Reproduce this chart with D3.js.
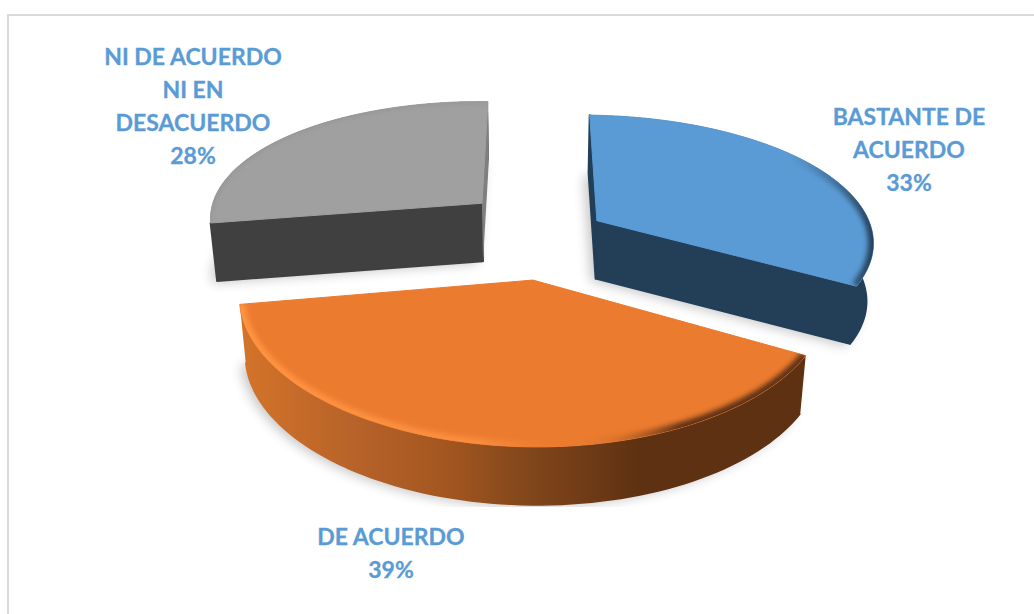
<!DOCTYPE html>
<html>
<head>
<meta charset="utf-8">
<script src="https://cdn.jsdelivr.net/npm/d3@7"></script>
<style>
html, body { margin: 0; padding: 0; background: #fff; overflow: hidden; }
svg { display: block; }
</style>
</head>
<body>
<svg id="chart" width="1034" height="614"></svg>
<script>
var categories = ["BASTANTE DE ACUERDO", "DE ACUERDO", "NI DE ACUERDO NI EN DESACUERDO"];
var values = [33, 39, 28];

var labelLines = [["BASTANTE DE", "ACUERDO"], ["DE ACUERDO"], ["NI DE ACUERDO", "NI EN", "DESACUERDO"]];
var topColors = ["#5b9bd5", "#eb7b2f", "#a0a0a0"];
var wallColors = ["#233e57", "#84481b", "#404040"];

// layout
var cx = 535, cy = 237, R = 278, depth = 58;
var tiltK = 0.455, perspY = 0.00055, perspX = 0.00048, bottomShrink = 0.98;
var explodeX = [63, -2, -55], explodeY = [-38, 90, -76];
var labelX = [909, 391, 193], labelY = [125, 545, 65];
var lineHeight = 33;

var svg = d3.select("#chart");
var defs = svg.append("defs");

var pie = d3.pie().sort(null).startAngle(0).endAngle(2 * Math.PI);
var arcs = pie(values);

function project(i, r, a, bottom) {
	var X = explodeX[i] + r * Math.sin(a);
	var Y = explodeY[i] - r * Math.cos(a);
	var sx = 1 / (1 - perspX * Y);
	var x = X * sx;
	var y = tiltK * Y / (1 - perspY * Y) + 0.01 * X;
	if(bottom) {
		x = x * bottomShrink;
		y = y + depth;
	}
	return [cx + x, cy + y];
}

function rimPoints(i, d, bottom) {
	return d3.range(0, 81).map(function (n) {
		return project(i, R, d.startAngle + (d.endAngle - d.startAngle) * n / 80, bottom);
	});
}

var openLine = d3.line();
var closedLine = d3.line().curve(d3.curveLinearClosed);

// filters
defs.append("filter").attr("id", "soft").attr("x", "-20%").attr("y", "-20%").attr("width", "140%").attr("height", "140%")
.append("feGaussianBlur").attr("stdDeviation", 6);

defs.append("filter").attr("id", "bevel").attr("filterUnits", "userSpaceOnUse")
.attr("x", 0).attr("y", 0).attr("width", 1034).attr("height", 614)
.append("feGaussianBlur").attr("stdDeviation", 2.4);

function gradient(id, stops) {
	var g = defs.append("linearGradient").attr("id", id)
	.attr("gradientUnits", "userSpaceOnUse")
	.attr("x1", 0).attr("x2", 1034).attr("y1", 0).attr("y2", 0);
	stops.forEach(function (s) {
		g.append("stop").attr("offset", s[0] / 1034).attr("stop-color", s[1]).attr("stop-opacity", s[2] === undefined ? 1 : s[2]);
	});
}

gradient("orangeWall", [[245, "#d37329"], [350, "#b8632a"], [450, "#a2561f"], [520, "#84481b"], [640, "#5e3112"], [810, "#5e3112"]]);
gradient("orangeBevel", [[240, "#ff9442"], [480, "#fb8d3e"], [570, "#eb7b2f", 0], [610, "#c96a28", 0.4], [680, "#5e3112"], [810, "#5e3112"]]);
gradient("blueBevel", [[790, "#233e57", 0], [835, "#233e57", 0.45], [875, "#233e57"]]);

var wallFills = ["#233e57", "url(#orangeWall)", "#404040"];
var bevelStrokes = ["url(#blueBevel)", "url(#orangeBevel)", "#8c8c8c"];

// clip at the picture's shadow edge
defs.append("clipPath").attr("id", "shadowClip")
.append("rect").attr("x", 0).attr("y", 0).attr("width", 1034).attr("height", 507);

// frame
svg.append("path")
.attr("d", "M1034 15H8V614")
.attr("fill", "none")
.attr("stroke", "#d9d9d9")
.attr("stroke-width", 2);

// back to front
var order = [2, 0, 1];

order.forEach(function (i) {

	var d = arcs[i];
	var g = svg.append("g").attr("class", "slice");

	var topRim = rimPoints(i, d, false);
	var botRim = rimPoints(i, d, true);
	var apexTop = project(i, 0, 0, false);
	var apexBot = project(i, 0, 0, true);

	var silhouette = closedLine([apexTop].concat(topRim));
	var bottomFace = closedLine([apexBot].concat(botRim));
	var outerWall = closedLine(topRim.concat(botRim.slice().reverse()));

	var startWall = closedLine([apexTop, topRim[0], botRim[0], apexBot]);
	var endWall = closedLine([apexTop, topRim[80], botRim[80], apexBot]);

	// soft shadow
	g.append("g").attr("clip-path", "url(#shadowClip)")
	.append("path")
	.attr("d", bottomFace)
	.attr("transform", "translate(-5,2)")
	.attr("fill", "#000")
	.attr("opacity", 0.22)
	.attr("filter", "url(#soft)");

	// outer wall, the bottom edge rounded off by a stroke
	g.append("path").attr("d", outerWall)
	.attr("fill", wallFills[i]);

	g.append("path").attr("d", openLine(botRim))
	.attr("fill", "none")
	.attr("stroke", wallFills[i])
	.attr("stroke-width", 1.5)
	.attr("stroke-linejoin", "round");

	// radial walls
	g.append("path").attr("d", startWall)
	.attr("fill", i == 1 ? "none" : wallFills[i])
	.attr("stroke", i == 1 ? "none" : wallFills[i])
	.attr("stroke-width", 2).attr("stroke-linejoin", "round");

	g.append("path").attr("d", endWall)
	.attr("fill", i == 2 ? "#7f7f7f" : (i == 1 ? "none" : wallColors[i]))
	.attr("stroke", i == 0 ? wallColors[0] : "none")
	.attr("stroke-width", 1.5)
	.attr("stroke-linejoin", "round");

	// top face
	g.append("path").attr("d", silhouette)
	.attr("fill", topColors[i])
	.attr("stroke", topColors[i])
	.attr("stroke-width", 1)
	.attr("stroke-linejoin", "round");

	// rim bevel, kept inside the top face
	var clipId = "faceClip" + i;
	defs.append("clipPath").attr("id", clipId).append("path").attr("d", silhouette);

	g.append("g").attr("clip-path", "url(#" + clipId + ")")
	.append("path")
	.attr("d", openLine(topRim))
	.attr("fill", "none")
	.attr("stroke", bevelStrokes[i])
	.attr("stroke-width", i == 2 ? 2 : 11)
	.attr("filter", "url(#bevel)");
});

// labels
var labels = svg.selectAll("text.label")
.data(arcs)
.enter().append("text")
.attr("class", "label")
.attr("text-anchor", "middle")
.attr("fill", "#5b9bd5")
.attr("stroke", "#5b9bd5")
.attr("stroke-width", 0.3)
.style("font-family", "Lato")
.style("font-weight", "bold")
.style("font-size", "23px");

labels.each(function (d, i) {
	var text = d3.select(this);
	var lines = labelLines[i].concat([d3.format(".0f")(d.value) + "%"]);
	lines.forEach(function (l, n) {
		text.append("tspan")
		.attr("x", labelX[i])
		.attr("y", labelY[i] + n * lineHeight)
		.text(l);
	});
});
</script>
</body>
</html>
